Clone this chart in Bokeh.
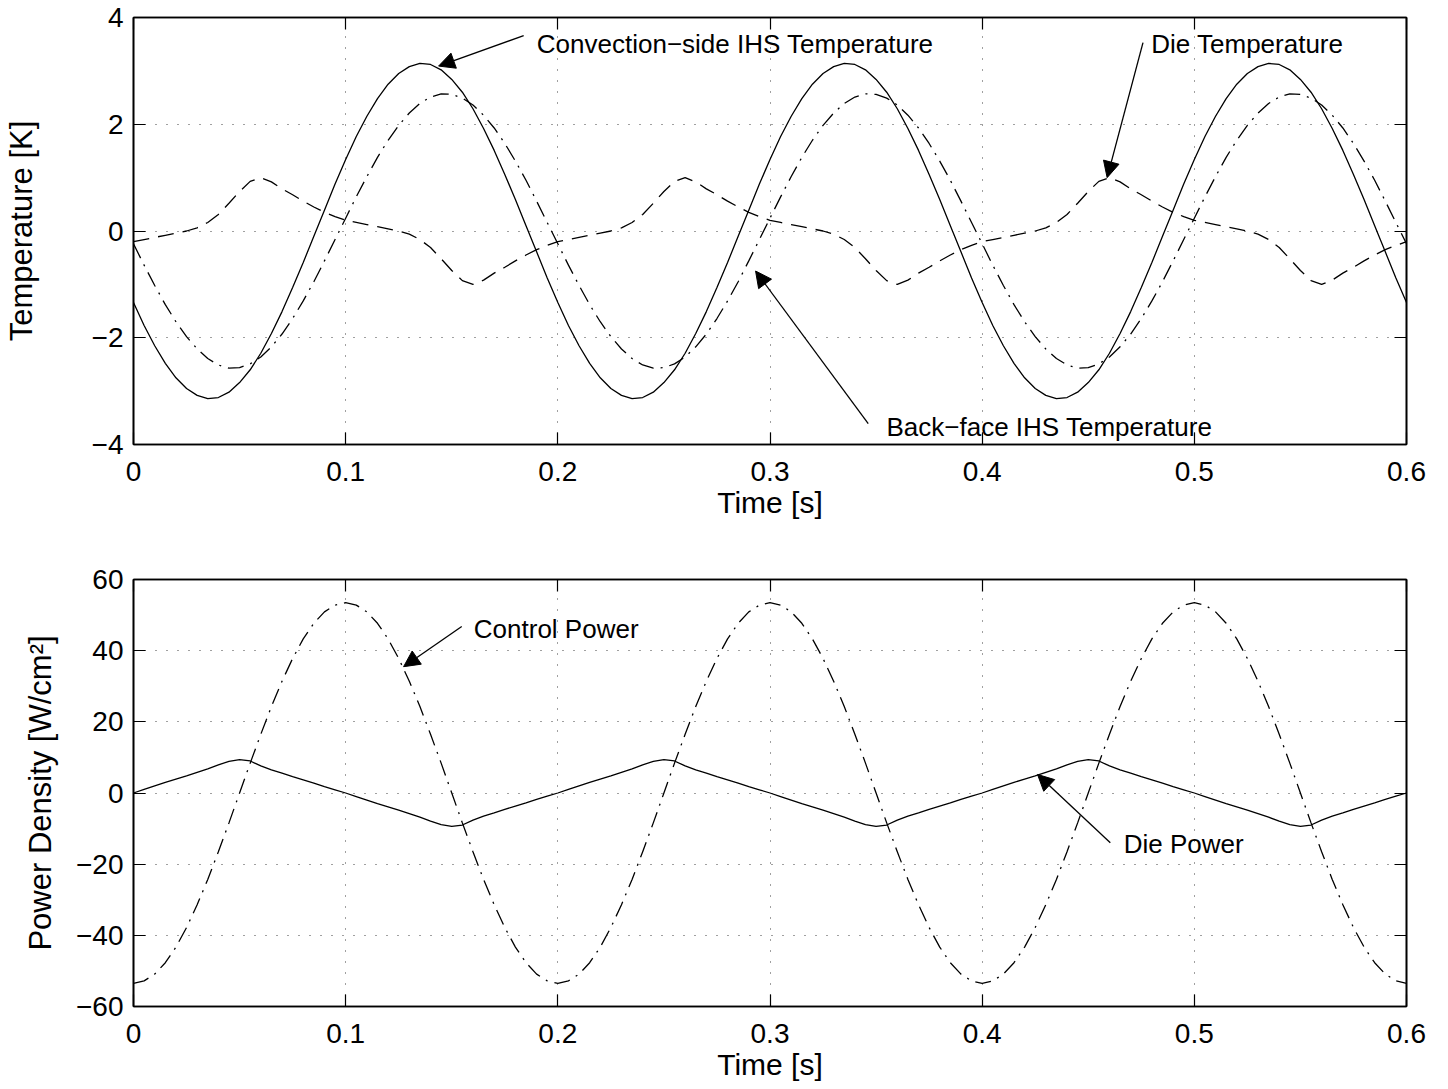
import numpy as np
from bokeh.plotting import figure
from bokeh.models import Range1d, FixedTicker, LinearAxis, Arrow, NormalHead, Label
from bokeh.layouts import column
from bokeh.embed import file_html
from bokeh.resources import INLINE

# ---------------- data (0.005 s steps) ----------------
time_s = np.linspace(0.0, 0.6, 121)

convection_side_K = [
    -1.34,
    -1.77, -2.15, -2.48, -2.75, -2.95, -3.08, -3.14, -3.12, -3.02, -2.84, -2.60, -2.29, -1.92, -1.51, -1.06, -0.59, -0.10, 0.39, 0.88, 1.34,
    1.77, 2.15, 2.48, 2.75, 2.95, 3.08, 3.14, 3.12, 3.02, 2.84, 2.60, 2.29, 1.92, 1.51, 1.06, 0.59, 0.10, -0.39, -0.88, -1.34,
    -1.77, -2.15, -2.48, -2.75, -2.95, -3.08, -3.14, -3.12, -3.02, -2.84, -2.60, -2.29, -1.92, -1.51, -1.06, -0.59, -0.10, 0.39, 0.88, 1.34,
    1.77, 2.15, 2.48, 2.75, 2.95, 3.08, 3.14, 3.12, 3.02, 2.84, 2.60, 2.29, 1.92, 1.51, 1.06, 0.59, 0.10, -0.39, -0.88, -1.34,
    -1.77, -2.15, -2.48, -2.75, -2.95, -3.08, -3.14, -3.12, -3.02, -2.84, -2.60, -2.29, -1.92, -1.51, -1.06, -0.59, -0.10, 0.39, 0.88, 1.34,
    1.77, 2.15, 2.48, 2.75, 2.95, 3.08, 3.14, 3.12, 3.02, 2.84, 2.60, 2.29, 1.92, 1.51, 1.06, 0.59, 0.10, -0.39, -0.88, -1.34,
]

back_face_K = [
    -0.24,
    -0.64, -1.02, -1.38, -1.70, -1.98, -2.21, -2.39, -2.51, -2.57, -2.56, -2.49, -2.36, -2.17, -1.93, -1.64, -1.31, -0.95, -0.56, -0.16, 0.24,
    0.64, 1.02, 1.38, 1.70, 1.98, 2.21, 2.39, 2.51, 2.57, 2.56, 2.49, 2.36, 2.17, 1.93, 1.64, 1.31, 0.95, 0.56, 0.16, -0.24,
    -0.64, -1.02, -1.38, -1.70, -1.98, -2.21, -2.39, -2.51, -2.57, -2.56, -2.49, -2.36, -2.17, -1.93, -1.64, -1.31, -0.95, -0.56, -0.16, 0.24,
    0.64, 1.02, 1.38, 1.70, 1.98, 2.21, 2.39, 2.51, 2.57, 2.56, 2.49, 2.36, 2.17, 1.93, 1.64, 1.31, 0.95, 0.56, 0.16, -0.24,
    -0.64, -1.02, -1.38, -1.70, -1.98, -2.21, -2.39, -2.51, -2.57, -2.56, -2.49, -2.36, -2.17, -1.93, -1.64, -1.31, -0.95, -0.56, -0.16, 0.24,
    0.64, 1.02, 1.38, 1.70, 1.98, 2.21, 2.39, 2.51, 2.57, 2.56, 2.49, 2.36, 2.17, 1.93, 1.64, 1.31, 0.95, 0.56, 0.16, -0.24,
]

die_temp_K = [
    -0.20,
    -0.16, -0.12, -0.08, -0.04, 0.00, 0.06, 0.16, 0.31, 0.52, 0.74, 0.93, 1.00, 0.92, 0.79, 0.68, 0.56, 0.45, 0.35, 0.27, 0.20,
    0.16, 0.12, 0.08, 0.04, 0.00, -0.06, -0.16, -0.31, -0.52, -0.74, -0.93, -1.00, -0.92, -0.79, -0.68, -0.56, -0.45, -0.35, -0.27, -0.20,
    -0.16, -0.12, -0.08, -0.04, 0.00, 0.06, 0.16, 0.31, 0.52, 0.74, 0.93, 1.00, 0.92, 0.79, 0.68, 0.56, 0.45, 0.35, 0.27, 0.20,
    0.16, 0.12, 0.08, 0.04, 0.00, -0.06, -0.16, -0.31, -0.52, -0.74, -0.93, -1.00, -0.92, -0.79, -0.68, -0.56, -0.45, -0.35, -0.27, -0.20,
    -0.16, -0.12, -0.08, -0.04, 0.00, 0.06, 0.16, 0.31, 0.52, 0.74, 0.93, 1.00, 0.92, 0.79, 0.68, 0.56, 0.45, 0.35, 0.27, 0.20,
    0.16, 0.12, 0.08, 0.04, 0.00, -0.06, -0.16, -0.31, -0.52, -0.74, -0.93, -1.00, -0.92, -0.79, -0.68, -0.56, -0.45, -0.35, -0.27, -0.20,
]

control_power = [
    -53.5,
    -52.8, -50.9, -47.7, -43.3, -37.8, -31.4, -24.3, -16.5, -8.4, 0.0, 8.4, 16.5, 24.3, 31.4, 37.8, 43.3, 47.7, 50.9, 52.8, 53.5,
    52.8, 50.9, 47.7, 43.3, 37.8, 31.4, 24.3, 16.5, 8.4, 0.0, -8.4, -16.5, -24.3, -31.4, -37.8, -43.3, -47.7, -50.9, -52.8, -53.5,
    -52.8, -50.9, -47.7, -43.3, -37.8, -31.4, -24.3, -16.5, -8.4, 0.0, 8.4, 16.5, 24.3, 31.4, 37.8, 43.3, 47.7, 50.9, 52.8, 53.5,
    52.8, 50.9, 47.7, 43.3, 37.8, 31.4, 24.3, 16.5, 8.4, 0.0, -8.4, -16.5, -24.3, -31.4, -37.8, -43.3, -47.7, -50.9, -52.8, -53.5,
    -52.8, -50.9, -47.7, -43.3, -37.8, -31.4, -24.3, -16.5, -8.4, 0.0, 8.4, 16.5, 24.3, 31.4, 37.8, 43.3, 47.7, 50.9, 52.8, 53.5,
    52.8, 50.9, 47.7, 43.3, 37.8, 31.4, 24.3, 16.5, 8.4, 0.0, -8.4, -16.5, -24.3, -31.4, -37.8, -43.3, -47.7, -50.9, -52.8, -53.5,
]

die_power = [
    0.0,
    1.0, 2.0, 3.0, 3.9, 4.8, 5.8, 6.8, 7.9, 8.9, 9.4, 9.0, 7.6, 6.5, 5.6, 4.6, 3.7, 2.8, 1.8, 0.9, 0.0,
    -1.0, -2.0, -3.0, -3.9, -4.8, -5.8, -6.8, -7.9, -8.9, -9.4, -9.0, -7.6, -6.5, -5.6, -4.6, -3.7, -2.8, -1.8, -0.9, 0.0,
    1.0, 2.0, 3.0, 3.9, 4.8, 5.8, 6.8, 7.9, 8.9, 9.4, 9.0, 7.6, 6.5, 5.6, 4.6, 3.7, 2.8, 1.8, 0.9, 0.0,
    -1.0, -2.0, -3.0, -3.9, -4.8, -5.8, -6.8, -7.9, -8.9, -9.4, -9.0, -7.6, -6.5, -5.6, -4.6, -3.7, -2.8, -1.8, -0.9, 0.0,
    1.0, 2.0, 3.0, 3.9, 4.8, 5.8, 6.8, 7.9, 8.9, 9.4, 9.0, 7.6, 6.5, 5.6, 4.6, 3.7, 2.8, 1.8, 0.9, 0.0,
    -1.0, -2.0, -3.0, -3.9, -4.8, -5.8, -6.8, -7.9, -8.9, -9.4, -9.0, -7.6, -6.5, -5.6, -4.6, -3.7, -2.8, -1.8, -0.9, 0.0,
]

x_ticks = [0.0, 0.1, 0.2, 0.3, 0.4, 0.5, 0.6]
x_tick_labels = ["0", "0.1", "0.2", "0.3", "0.4", "0.5", "0.6"]
temp_ticks = [-4, -2, 0, 2, 4]
temp_tick_labels = ["\u22124", "\u22122", "0", "2", "4"]
power_ticks = [-60, -40, -20, 0, 20, 40, 60]
power_tick_labels = ["\u221260", "\u221240", "\u221220", "0", "20", "40", "60"]

FONT = "Liberation Sans"
TICK_FS = "28px"
LABEL_FS = "30px"
YLABEL_FS = "31px"
ANN_FS = "26px"


def style(p, yticks, ylabels, xlabel, ylabel, ylab_standoff, xstand, xlab_stand):
    xt = FixedTicker(ticks=x_ticks)
    yt = FixedTicker(ticks=yticks)
    p.xaxis.ticker = xt
    p.yaxis.ticker = yt
    p.xaxis.major_label_overrides = {t: l for t, l in zip(x_ticks, x_tick_labels)}
    p.yaxis.major_label_overrides = {t: l for t, l in zip(yticks, ylabels)}
    p.xaxis.axis_label = xlabel
    p.yaxis.axis_label = ylabel
    for ax in (p.xaxis[0], p.yaxis[0]):
        ax.major_tick_in = 12
        ax.major_tick_out = 0
        ax.minor_tick_line_color = None
        ax.axis_line_width = 1.6
        ax.major_tick_line_width = 1.2
        ax.axis_line_color = "black"
        ax.major_tick_line_color = "black"
        ax.major_label_text_font = FONT
        ax.major_label_text_font_size = TICK_FS
        ax.major_label_text_color = "black"
        ax.axis_label_text_font = FONT
        ax.axis_label_text_font_size = LABEL_FS
        ax.axis_label_text_font_style = "normal"
        ax.axis_label_text_color = "black"
    p.yaxis.axis_label_text_font_size = YLABEL_FS
    p.yaxis.major_label_standoff = 10
    p.yaxis.axis_label_standoff = ylab_standoff
    p.xaxis.major_label_standoff = xstand
    p.xaxis.axis_label_standoff = xlab_stand
    # mirrored tick-only axes (box on)
    for loc, tk in (("above", xt), ("right", yt)):
        ax = LinearAxis(ticker=tk)
        ax.major_tick_in = 12
        ax.major_tick_out = 0
        ax.minor_tick_line_color = None
        ax.axis_line_width = 1.6
        ax.major_tick_line_width = 1.2
        ax.major_label_text_color = None
        ax.major_label_standoff = 0
        p.add_layout(ax, loc)
    p.xgrid.ticker = xt
    p.ygrid.ticker = yt
    p.grid.grid_line_color = "black"
    p.grid.grid_line_alpha = 0.75
    p.grid.grid_line_dash = "1 10"
    p.grid.grid_line_width = 1
    p.outline_line_color = "black"
    p.outline_line_width = 1.6
    p.background_fill_color = "white"
    p.border_fill_color = "white"


def arrow(p, xs, ys, xe, ye):
    p.add_layout(Arrow(end=NormalHead(size=16, fill_color="black", line_color="black", line_width=1),
                       x_start=xs, y_start=ys, x_end=xe, y_end=ye,
                       line_color="black", line_width=1.3))


def label(p, x, y, text):
    p.add_layout(Label(x=x, y=y, text=text, text_font=FONT, text_font_size=ANN_FS,
                       text_align="left", text_baseline="middle", text_color="black"))


# ---------------- top: temperatures ----------------
p1 = figure(width=1440, height=530, output_backend="svg", toolbar_location=None,
            x_range=Range1d(0, 0.6), y_range=Range1d(-4, 4),
            min_border_left=132, min_border_right=34, min_border_top=17, min_border_bottom=86)
style(p1, temp_ticks, temp_tick_labels, "Time [s]", "Temperature [K]", 50, 17, 2)

p1.line(time_s, convection_side_K, line_color="black", line_width=1.3)
p1.line(time_s, back_face_K, line_color="black", line_width=1.3, line_dash="16 7 2 7")
p1.line(time_s, die_temp_K, line_color="black", line_width=1.3, line_dash="16 9")

arrow(p1, 0.1839, 3.66, 0.1438, 3.09)
label(p1, 0.1901, 3.51, "Convection\u2212side IHS Temperature")
arrow(p1, 0.4758, 3.53, 0.4589, 1.0)
label(p1, 0.4797, 3.51, "Die Temperature")
arrow(p1, 0.3463, -3.61, 0.2932, -0.75)
label(p1, 0.3549, -3.675, "Back\u2212face IHS Temperature")

# ---------------- bottom: power ----------------
p2 = figure(width=1440, height=559, output_backend="svg", toolbar_location=None,
            x_range=Range1d(0, 0.6), y_range=Range1d(-60, 60),
            min_border_left=132, min_border_right=34, min_border_top=49, min_border_bottom=83)
style(p2, power_ticks, power_tick_labels, "Time [s]", "Power Density [W/cm\u00b2]", 15, 17, 2)

p2.line(time_s, die_power, line_color="black", line_width=1.3)
p2.line(time_s, control_power, line_color="black", line_width=1.3, line_dash="16 7 2 7")

arrow(p2, 0.1547, 46.8, 0.1273, 35.5)
label(p2, 0.1604, 46.06, "Control Power")
arrow(p2, 0.4604, -14.0, 0.4261, 5.2)
label(p2, 0.4667, -14.47, "Die Power")

layout = column(p1, p2, spacing=0)
open("out.html", "w").write(file_html(layout, INLINE))
